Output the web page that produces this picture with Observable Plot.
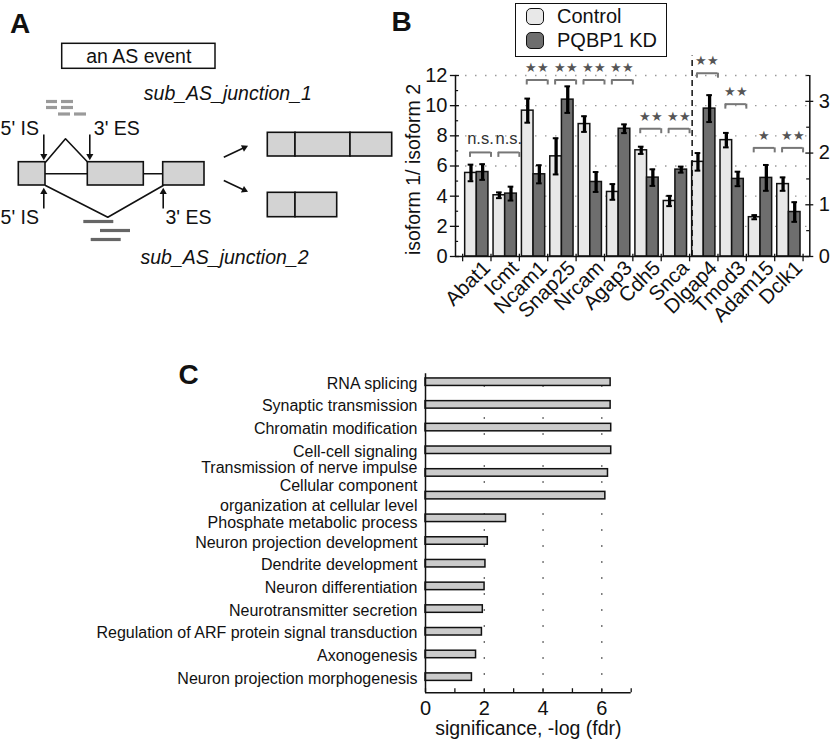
<!DOCTYPE html>
<html><head><meta charset="utf-8">
<script src="https://cdn.jsdelivr.net/npm/d3@7"></script>
<script src="https://cdn.jsdelivr.net/npm/@observablehq/plot@0.6"></script>
<style>
html,body{margin:0;padding:0;background:#fff;}
#fig{position:relative;width:831px;height:744px;overflow:hidden;font-family:"Liberation Sans",Arial,Helvetica,sans-serif;color:#111;background:#fff;}
#fig svg{position:absolute;overflow:visible;}
.letter{position:absolute;font-weight:bold;font-size:28px;line-height:1;}
#legend{position:absolute;left:515px;top:3px;width:152px;height:54px;border:1.5px solid #111;box-sizing:border-box;font-size:20px;background:#fff;}
.lrow{position:absolute;left:10px;height:22px;display:flex;align-items:center;}
.sw{width:18px;height:17px;border:1.5px solid #111;border-radius:5px;margin-right:13px;box-sizing:border-box;}
</style></head>
<body><div id="fig"></div>
<script>
// ---------- Panel B data ----------
const genes = ["Abat1","Icmt","Ncam1","Snap25","Nrcam","Agap3","Cdh5","Snca","Dlgap4","Tmod3","Adam15","Dclk1"];
const axisSide = ["left","left","left","left","left","left","left","left","right","right","right","right"];
const ctrlMean = [5.54,4.06,9.67,6.64,8.78,4.28,7.04,3.68,1.83,2.25,0.76,1.40];
const ctrlErr  = [0.55,0.19,0.80,1.20,0.52,0.52,0.24,0.34,0.17,0.14,0.04,0.13];
const kdMean   = [5.60,4.17,5.45,10.40,4.94,8.47,5.23,5.76,2.86,1.50,1.52,0.86];
const kdErr    = [0.52,0.46,0.60,0.88,0.66,0.29,0.55,0.20,0.26,0.14,0.25,0.19];
const sigLabels = ["n.s.","n.s.","★★","★★","★★","★★","★★","★★","★★","★★","★","★★"];
const sigLevels = [6.9,6.9,11.7,11.7,11.7,11.7,8.47,8.47,12.15,10.1,7.2,7.2]; // left-axis units
const leftTicks = [0,2,4,6,8,10,12];
const rightTicks = [0,1,2,3];
const conditions = ["Control","PQBP1 KD"];
const yTitleB = "isoform 1/ isoform 2";

// ---------- Panel C data ----------
const terms = ["RNA splicing","Synaptic transmission","Chromatin modification","Cell-cell signaling",
  "Transmission of nerve impulse","Cellular component\norganization at cellular level",
  "Phosphate metabolic process","Neuron projection development","Dendrite development",
  "Neuron differentiation","Neurotransmitter secretion","Regulation of ARF protein signal transduction",
  "Axonogenesis","Neuron projection morphogenesis"];
const significance = [6.30,6.30,6.32,6.32,6.21,6.12,2.74,2.12,2.04,2.01,1.95,1.92,1.72,1.58];
const cTicks = [0,2,4,6];
const xTitleC = "significance, -log (fdr)";

// ---------- Panel A schematic (diagram units) ----------
const eventBox = [{x1:61.7,x2:215,y1:43.3,y2:68.3}];
const exons = [{x1:18.3,x2:45,y1:161.7,y2:185},{x1:87.3,x2:143.3,y1:161.7,y2:185},{x1:162.7,x2:204,y1:161.7,y2:185}];
const diagramPaths = [
  {id:"intron1",x:45,y:173.3},{id:"intron1",x:87.3,y:173.3},
  {id:"intron2",x:143.3,y:173.3},{id:"intron2",x:162.7,y:173.3},
  {id:"junction1",x:45,y:161.7},{id:"junction1",x:65,y:138.3},{id:"junction1",x:87.3,y:161.7},
  {id:"junction2",x:45,y:185},{id:"junction2",x:107.3,y:216.7},{id:"junction2",x:162.7,y:185}
];
const siteArrows = [
  {x1:43.3,y1:134,x2:43.3,y2:160.5},{x1:89.3,y1:134,x2:89.3,y2:160.5},
  {x1:43.3,y1:208,x2:43.3,y2:186.5},{x1:162.7,y1:208,x2:162.7,y2:186.5}
];
const isoformArrows = [{x1:223.3,y1:156.7,x2:248.3,y2:145},{x1:223.3,y1:180,x2:248.3,y2:191.7}];
const readsJ1 = [{x1:46,x2:57,y:101},{x1:61,x2:73,y:101},{x1:46,x2:57,y:107},{x1:61,x2:73,y:107},{x1:58,x2:70,y:113.5},{x1:74,x2:86,y:113.5}];
const readsJ2 = [{x1:83.3,x2:113.3,y:221},{x1:100,x2:130,y:230},{x1:90.7,x2:120.7,y:239}];
const isoformSegs = [
  {x1:267.3,x2:295,y1:132.3,y2:156},{x1:295,x2:350,y1:132.3,y2:156},{x1:350,x2:391.7,y1:132.3,y2:156},
  {x1:267.3,x2:295,y1:192.3,y2:216.7},{x1:295,x2:336.7,y1:192.3,y2:216.7}
];
const labelsMiddle = [{text:"an AS event",x:138.3,y:56}];
const labelsEnd = [{text:"5' IS",x:38.5,y:128},{text:"5' IS",x:38.5,y:217}];
const labelsStart = [{text:"3' ES",x:93.3,y:128},{text:"3' ES",x:165,y:217}];
const labelsItalic = [{text:"sub_AS_junction_1",x:143.3,y:93},{text:"sub_AS_junction_2",x:140,y:257}];

// ---------- styles ----------
const FONT = '"Liberation Sans", Arial, Helvetica, sans-serif';
const barColors = ["#e8e8e8","#6e6e6e"];
const fig = document.getElementById("fig");

function place(svg, left, top){ svg.style.left = left+"px"; svg.style.top = top+"px"; fig.appendChild(svg); }

// arrow geometry: shaft ends before the tip, filled triangle head at the tip
const HEAD = 8;
function arrowParts(list){
  return list.map(a=>{
    const dx=a.x2-a.x1, dy=a.y2-a.y1, L=Math.hypot(dx,dy), ux=dx/L, uy=dy/L;
    return {...a, sx2:a.x2-ux*HEAD*0.6, sy2:a.y2-uy*HEAD*0.6,
      hx:a.x2-ux*HEAD*0.62, hy:a.y2-uy*HEAD*0.62,
      angle:Math.atan2(dx,-dy)*180/Math.PI};
  });
}
const allArrows = arrowParts([...siteArrows,...isoformArrows]);

// ---------- Panel A ----------
const plotA = Plot.plot({
  width:400, height:280, margin:0,
  x:{domain:[0,400], range:[0,400], axis:null},
  y:{domain:[0,280], range:[0,280], axis:null},
  style:{fontFamily:FONT, background:"transparent", color:"#111"},
  marks:[
    Plot.rect(eventBox,{x1:"x1",x2:"x2",y1:"y1",y2:"y2",fill:"white",stroke:"#111",strokeWidth:1.5}),
    Plot.line(diagramPaths,{x:"x",y:"y",z:"id",stroke:"#111",strokeWidth:1.6}),
    Plot.rect(exons,{x1:"x1",x2:"x2",y1:"y1",y2:"y2",fill:"#d3d3d3",stroke:"#111",strokeWidth:1.6}),
    Plot.rect(isoformSegs,{x1:"x1",x2:"x2",y1:"y1",y2:"y2",fill:"#d3d3d3",stroke:"#111",strokeWidth:1.6}),
    Plot.ruleY(readsJ1,{x1:"x1",x2:"x2",y:"y",stroke:"#9a9a9a",strokeWidth:3.2}),
    Plot.ruleY(readsJ2,{x1:"x1",x2:"x2",y:"y",stroke:"#666",strokeWidth:3.2}),
    Plot.link(allArrows,{x1:"x1",y1:"y1",x2:"sx2",y2:"sy2",stroke:"#111",strokeWidth:1.6}),
    Plot.dot(allArrows,{x:"hx",y:"hy",symbol:"triangle2",r:3.4,rotate:"angle",fill:"#111",stroke:"none"}),
    Plot.text(labelsMiddle,{x:"x",y:"y",text:"text",fontSize:19.5,textAnchor:"middle"}),
    Plot.text(labelsEnd,{x:"x",y:"y",text:"text",fontSize:19.5,textAnchor:"end"}),
    Plot.text(labelsStart,{x:"x",y:"y",text:"text",fontSize:19.5,textAnchor:"start"}),
    Plot.text(labelsItalic,{x:"x",y:"y",text:"text",fontSize:19.5,textAnchor:"start",fontStyle:"italic"})
  ]
});
place(plotA, 0, 0);

// ---------- Panel B ----------
const RIGHT_TO_LEFT = 12/3.5;
const BAR_W = 0.41;
const X_MIN = -0.751, X_MAX = 11.737;
const rows = [];
genes.forEach((g,i)=>{
  const f = axisSide[i]==="right" ? RIGHT_TO_LEFT : 1;
  rows.push({gene:g,i,cond:conditions[0],x1:i-BAR_W,x2:i,xc:i-BAR_W/2,v:ctrlMean[i]*f,e:ctrlErr[i]*f});
  rows.push({gene:g,i,cond:conditions[1],x1:i,x2:i+BAR_W,xc:i+BAR_W/2,v:kdMean[i]*f,e:kdErr[i]*f});
});
const sig = genes.map((g,i)=>({gene:g,i,label:sigLabels[i],level:sigLevels[i],c:i+0.13}));
const firstRight = axisSide.indexOf("right");

const plotB = Plot.plot({
  width:431, height:330, marginLeft:55, marginRight:21.7, marginTop:75, marginBottom:74,
  x:{domain:[X_MIN,X_MAX], axis:null},
  y:{domain:[0,12], axis:null},
  color:{domain:conditions, range:barColors},
  style:{fontFamily:FONT, background:"transparent", color:"#111"},
  marks:[
    Plot.ruleY(leftTicks.filter(d=>d>0),{stroke:"#9a9a9a",strokeDasharray:"1.5,8.5",strokeWidth:1.3}),
    Plot.rectY(rows,{x1:"x1",x2:"x2",y1:0,y2:"v",fill:"cond",stroke:"#111",strokeWidth:1.5}),
    Plot.ruleX(rows,{x:"xc",y1:d=>d.v-d.e,y2:d=>d.v+d.e,stroke:"#000",strokeWidth:3.3}),
    Plot.ruleY(rows,{y:d=>d.v-d.e,x1:d=>d.xc-0.1,x2:d=>d.xc+0.1,stroke:"#000",strokeWidth:2}),
    Plot.ruleY(rows,{y:d=>d.v+d.e,x1:d=>d.xc-0.1,x2:d=>d.xc+0.1,stroke:"#000",strokeWidth:2}),
    // axes lines
    Plot.ruleY([0],{stroke:"#111",strokeWidth:1.5}),
    Plot.ruleX([X_MIN,X_MAX],{stroke:"#111",strokeWidth:1.5}),
    // divider between left-axis and right-axis genes
    Plot.ruleX([firstRight-BAR_W],{y1:0,y2:13.3,stroke:"#111",strokeWidth:1.5,strokeDasharray:"6,4"}),
    // x ticks at group boundaries
    Plot.ruleX(d3.range(genes.length+1).map(j=>j-0.5),{y1:0.15,y2:-0.35,stroke:"#111",strokeWidth:1.3}),
    // left axis ticks
    Plot.ruleY(leftTicks,{x1:X_MIN-0.18,x2:X_MIN+0.14,stroke:"#111",strokeWidth:1.3}),
    Plot.ruleY(d3.range(1,12,2),{x1:X_MIN,x2:X_MIN+0.11,stroke:"#111",strokeWidth:1.2}),
    Plot.text(leftTicks,{x:X_MIN,y:d=>d,text:d=>String(d),dx:-8,textAnchor:"end",fontSize:20}),
    // right axis ticks
    Plot.ruleY(rightTicks.map(d=>d*RIGHT_TO_LEFT),{x1:X_MAX-0.14,x2:X_MAX+0.14,stroke:"#111",strokeWidth:1.3}),
    Plot.ruleY([0.5,1.5,2.5,3.5].map(d=>d*RIGHT_TO_LEFT),{x1:X_MAX-0.11,x2:X_MAX,stroke:"#111",strokeWidth:1.2}),
    Plot.text(rightTicks,{x:X_MAX,y:d=>d*RIGHT_TO_LEFT,text:d=>String(d),dx:9,textAnchor:"start",fontSize:20}),
    // gene labels
    Plot.text(genes,{x:(d,i)=>i,y:0,rotate:-45,textAnchor:"end",dx:10,dy:8,fontSize:20.5}),
    // significance brackets
    Plot.ruleY(sig,{y:"level",x1:d=>d.c-0.37,x2:d=>d.c+0.37,stroke:"#777",strokeWidth:2}),
    Plot.ruleX(sig,{x:d=>d.c-0.37,y1:"level",y2:d=>d.level-0.33,stroke:"#777",strokeWidth:2}),
    Plot.ruleX(sig,{x:d=>d.c+0.37,y1:"level",y2:d=>d.level-0.33,stroke:"#777",strokeWidth:2}),
    Plot.text(sig.filter(d=>d.label==="n.s."),{x:"c",y:"level",text:"label",dy:-14,fontSize:16.5,fill:"#333"}),
    Plot.text(sig.filter(d=>d.label!=="n.s."),{x:"c",y:"level",text:"label",dy:-12,fontSize:12.5,fill:"#555"}),
    // y title
    Plot.text([yTitleB],{frameAnchor:"left",textAnchor:"middle",rotate:-90,dx:-41.7,dy:3.5,fontSize:19.5})
  ]
});
place(plotB, 400, 0);

// ---------- Panel C ----------
const Y_MIN = -0.37, Y_MAX = 13.69;
const multi = terms.findIndex(t=>t.includes("\n"));
const nudge = (i)=> i===multi-1 ? -6 : i===multi ? -1 : i===multi+1 ? 3.5 : 0;
const termRows = terms.map((t,i)=>({t,i,dy:nudge(i)}));
const plotC = Plot.plot({
  width:831, height:404, marginLeft:425, marginRight:200.3, marginTop:33.3, marginBottom:51.7,
  x:{domain:[0,7], axis:null},
  y:{domain:[Y_MIN,Y_MAX], reverse:true, axis:null},
  style:{fontFamily:FONT, background:"transparent", color:"#111"},
  marks:[
    Plot.ruleX([2,4,6],{stroke:"#222",strokeDasharray:"1.5,14.5",strokeDashoffset:4,strokeWidth:1.2}),
    Plot.rectX(terms,{x1:0,x2:(d,i)=>significance[i],y1:(d,i)=>i-0.165,y2:(d,i)=>i+0.165,fill:"#cbcbcb",stroke:"#111",strokeWidth:1.5}),
    Plot.ruleX([0],{stroke:"#111",strokeWidth:1.5}),
    Plot.ruleY([Y_MAX],{stroke:"#111",strokeWidth:1.5}),
    Plot.ruleX(d3.range(0,8),{y1:Y_MAX,y2:Y_MAX-0.18,stroke:"#111",strokeWidth:1.3}),
    Plot.text(cTicks,{x:d=>d,y:Y_MAX,text:d=>String(d),dy:15.5,fontSize:20}),
    ...[...new Set(termRows.map(d=>d.dy))].map(o =>
      Plot.text(termRows.filter(d=>d.dy===o),{x:0,y:"i",text:"t",dx:-8,dy:o,textAnchor:"end",fontSize:16,lineHeight:1.27})),
    Plot.text([xTitleC],{frameAnchor:"bottom",dy:42.5,fontSize:19.5})
  ]
});
place(plotC, 0, 340);

// ---------- panel letters & legend ----------
[["A",10,9.6],["B",391.5,8],["C",178.6,361.3]].forEach(([t,l,tp])=>{
  const d=document.createElement("div"); d.className="letter"; d.textContent=t;
  d.style.left=l+"px"; d.style.top=tp+"px"; fig.appendChild(d);
});
const lg=document.createElement("div"); lg.id="legend";
conditions.forEach((c,k)=>{
  const r=document.createElement("div"); r.className="lrow"; r.style.top=(k===0?1.5:25.8)+"px";
  const s=document.createElement("div"); s.className="sw"; s.style.background=barColors[k];
  const t=document.createElement("span"); t.textContent=c;
  r.appendChild(s); r.appendChild(t); lg.appendChild(r);
});
fig.appendChild(lg);
</script></body></html>
